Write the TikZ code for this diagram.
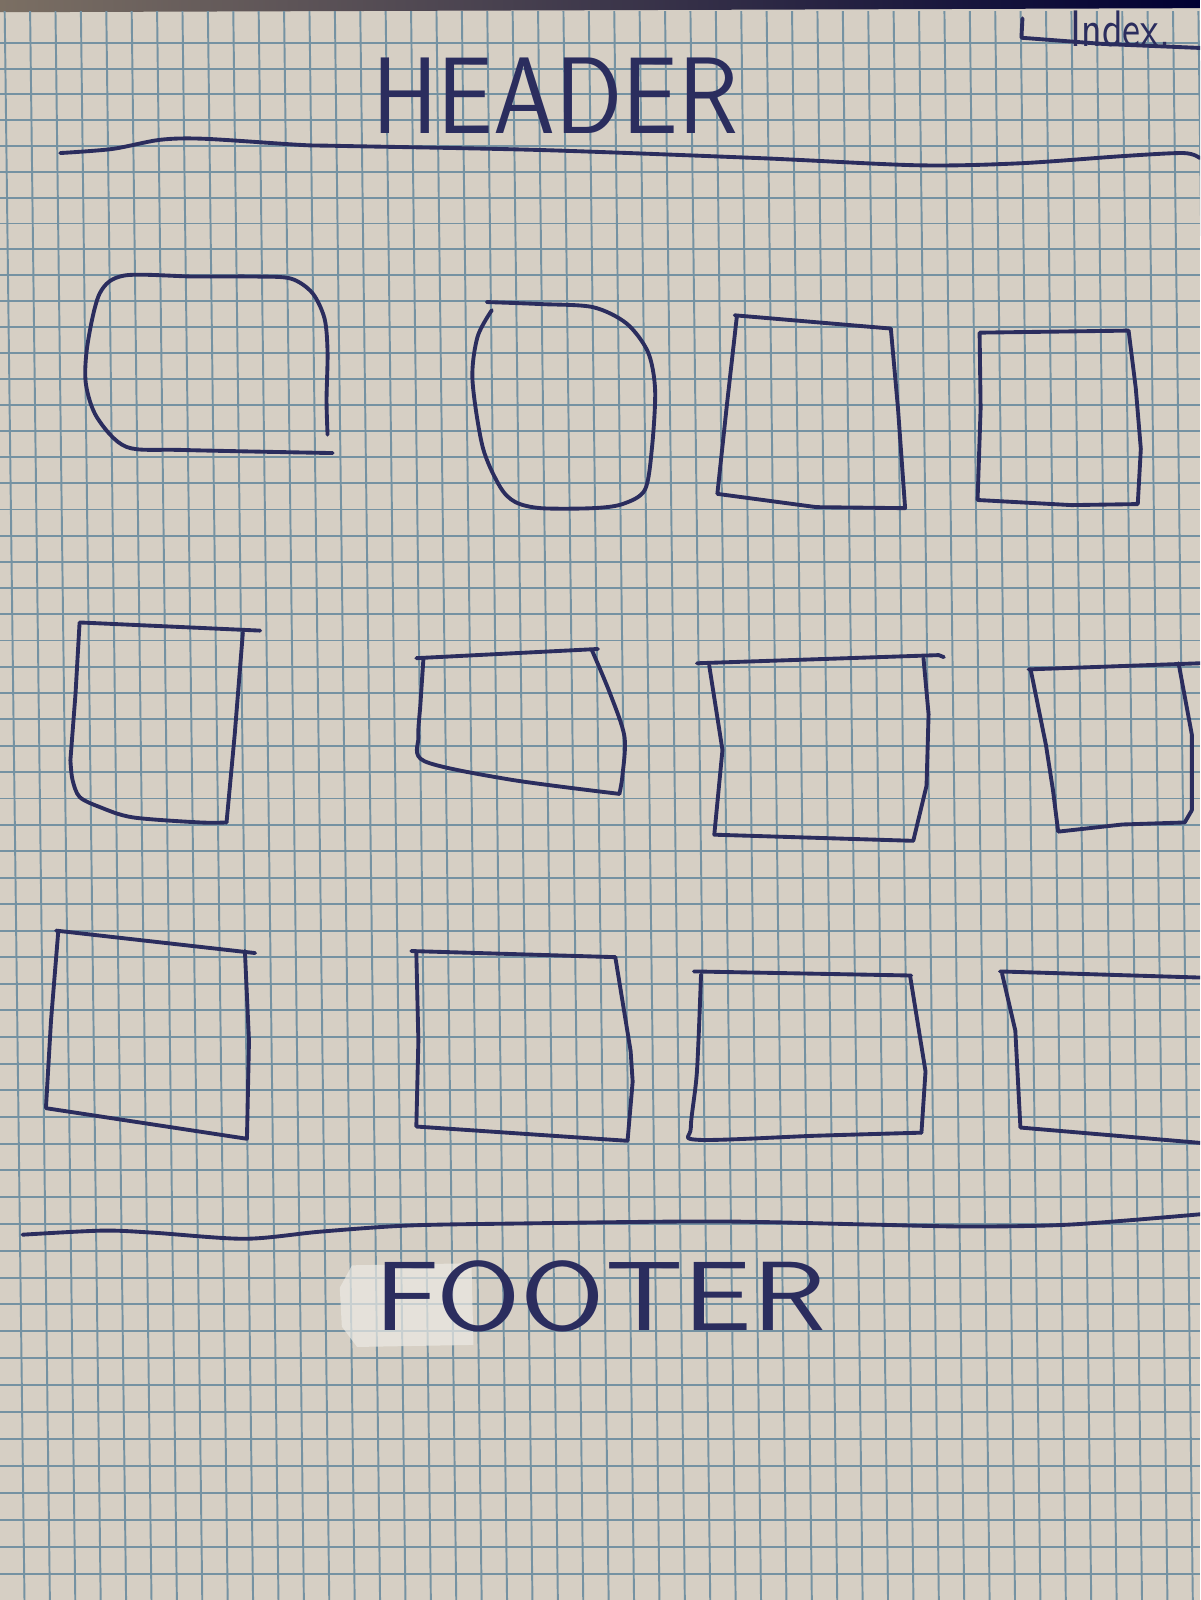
\documentclass[tikz,border=0pt]{standalone}
\usepackage{tikz}
\usetikzlibrary{positioning}
\usepackage{xcolor}

\definecolor{paper}{HTML}{D6CFC4}
\definecolor{gridblue}{HTML}{7592A2}
\definecolor{ink}{HTML}{2B2D5E}
\definecolor{tabletop}{HTML}{7B6F63}
\definecolor{tape}{HTML}{ECEAE4}

\begin{document}
\begin{tikzpicture}[x=0.0102041cm, y=-0.0102041cm,
    pen/.style={draw=ink, line width=1.1pt, line cap=round, line join=round},
    gridline/.style={draw=gridblue, line width=0.55pt},
    hand/.style={text=ink, inner sep=0pt}]

    % Page size
    \useasboundingbox (0,0) rectangle (1176,1568);
    \clip (0,0) rectangle (1176,1568);

    % Paper and table edge
    \fill[paper] (0,0) rectangle (1176,1568);
    \shade[left color=tabletop, right color=black!80!blue] (0,0) -- (1176,0) -- (1176,8) -- (0,12) -- cycle;

    % Squared paper
    \foreach \k in {0,...,47} \draw[gridline] ({4.6+24.89*\k},11) -- ({24+24.89*\k},1568);
    \foreach \k in {0,...,60} \draw[gridline] (0,{42.1+25.19*\k+0.01176*\k*\k}) -- (1176,{42.1+25.19*\k+0.01176*\k*\k});

    % Header
    \node[hand, font=\sffamily\fontsize{31}{31}\selectfont, xscale=0.91] (header) at (544,94) {HEADER};
    \draw[pen] plot[smooth] coordinates {(59,150) (110,146) (157,137) (200,136) (294,142) (333,143) (529,147) (745,155) (900,162) (1000,160) (1100,153) (1160,150) (1176,155)};

    % Index link, top right
    \node[hand, font=\sffamily\fontsize{14.6}{14.6}\selectfont, anchor=base, xscale=0.8] (index) at (1098,46) {Index.};
    \draw[pen] (1002,18) -- (1001,37) -- (1080,43) -- (1176,47);

    % Row 1
    \draw[pen] plot[smooth] coordinates {(321,426) (320,392) (321,345) (318,312) (306,287) (285,273) (250,271) (190,271) (122,270) (98,287) (86,336) (84,375) (95,409) (124,438) (180,441) (326,444)};
    \draw[pen] plot[smooth] coordinates {(477,296) (530,298) (581,301) (614,317) (635,345) (642,382) (639,438) (632,480) (610,494) (581,498) (530,498) (505,492) (490,477) (473,438) (463,372) (468,330) (482,304)};
    \draw[pen] (720,309) -- (873,322) -- (880,400) -- (887,498) -- (800,497) -- (703,484) -- (712,400) -- (722,311);
    \draw[pen] (960,326) -- (1106,324) -- (1113,380) -- (1118,440) -- (1115,494) -- (1050,495) -- (958,490) -- (961,400) -- (960,326);

    % Row 2
    \draw[pen] (255,618) -- (78,610) -- (74,680) -- (69,745);
    \draw[pen] plot[smooth] coordinates {(69,745) (71,764) (78,781) (98,791) (130,801) (196,806) (222,806)};
    \draw[pen] (222,806) -- (230,720) -- (238,620);
    \draw[pen] (408,645) -- (586,636);
    \draw[pen] plot[smooth] coordinates {(415,645) (412,690) (410,722) (416,746) (500,764) (607,778)};
    \draw[pen] plot[smooth] coordinates {(580,637) (598,680) (612,722) (610,760) (607,778)};
    \draw[pen] (683,650) -- (920,642) -- (925,644);
    \draw[pen] (695,652) -- (708,735) -- (700,818) -- (895,824) -- (908,770) -- (910,700) -- (905,645);
    \draw[pen] (1008,656) -- (1176,650);
    \draw[pen] (1010,656) -- (1025,730) -- (1032,775) -- (1037,815) -- (1100,808) -- (1161,806) -- (1168,794) -- (1168,720) -- (1155,650);

    % Row 3
    \draw[pen] (55,912) -- (250,934);
    \draw[pen] (57,914) -- (50,1000) -- (45,1086) -- (242,1116) -- (244,1020) -- (240,932);
    \draw[pen] (403,932) -- (603,938);
    \draw[pen] (408,934) -- (410,1020) -- (408,1104) -- (615,1118) -- (620,1060) -- (618,1030) -- (603,938);
    \draw[pen] (680,952) -- (893,956);
    \draw[pen] plot[smooth] coordinates {(687,955) (683,1050) (677,1105) (684,1117) (800,1113) (903,1110)};
    \draw[pen] (903,1110) -- (907,1050) -- (892,957);
    \draw[pen] (980,952) -- (1176,958);
    \draw[pen] (982,954) -- (995,1010) -- (1000,1105) -- (1176,1120);

    % Footer
    \draw[pen] plot[smooth] coordinates {(22,1210) (100,1206) (150,1208) (240,1214) (314,1207) (400,1201) (510,1199) (700,1197) (850,1200) (950,1202) (1050,1200) (1176,1190)};
    \fill[tape, opacity=0.7] (333,1262) -- (345,1240) -- (462,1238) -- (464,1318) -- (350,1320) -- (335,1300) -- cycle;
    \node[hand, font=\sffamily\fontsize{28}{28}\selectfont, xscale=1.24] (footer) at (588,1270) {FOOTER};

\end{tikzpicture}
\end{document}
